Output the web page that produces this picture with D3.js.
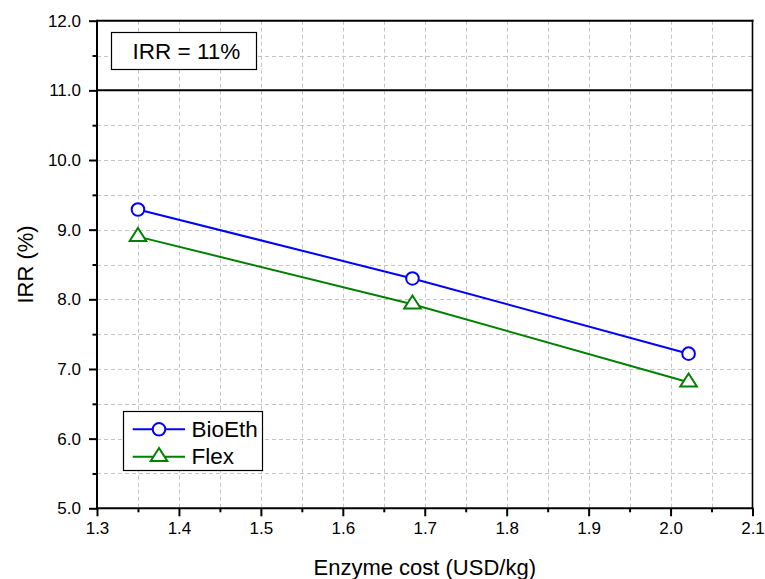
<!DOCTYPE html>
<html><head><meta charset="utf-8">
<script src="https://cdn.jsdelivr.net/npm/d3@7"></script>
<style>body{margin:0;background:#fff}svg{display:block}text{font-family:"Liberation Sans",Arial,sans-serif;fill:#000}</style>
</head><body>
<svg id="c" width="765" height="579"></svg>
<script>
const enzymeCost = [1.35, 1.685, 2.022];
const bioEth = [9.29, 8.30, 7.22];
const flex = [8.90, 7.93, 6.81];
const xTicks = [1.3, 1.4, 1.5, 1.6, 1.7, 1.8, 1.9, 2.0, 2.1];
const yTicks = [5, 6, 7, 8, 9, 10, 11, 12];
const irrTarget = 11;
const seriesNames = ["BioEth", "Flex"];

const svg = d3.select("#c");
const L = 97, R = 752.5, T = 20.7, B = 508.3;
const x = d3.scaleLinear().domain([1.3, 2.1]).range([L, R]);
const y = d3.scaleLinear().domain([5, 12]).range([B, T]);

// grid
const gx = d3.range(1.35, 2.1, 0.05);
const gy = d3.range(5.5, 12, 0.5);
const grid = svg.append("g").attr("stroke", "#c4c4c4").attr("stroke-width", 1).attr("stroke-dasharray", "4,3");
grid.selectAll("line.gx").data(gx).join("line").attr("class","gx")
  .attr("x1", d => Math.round(x(d)) + 0.5).attr("x2", d => Math.round(x(d)) + 0.5).attr("y1", T).attr("y2", B);
grid.selectAll("line.gy").data(gy).join("line").attr("class","gy")
  .attr("y1", d => Math.round(y(d)) + 0.5).attr("y2", d => Math.round(y(d)) + 0.5).attr("x1", L).attr("x2", R);

// axes
const xAxis = d3.axisBottom(x).tickValues(xTicks).tickFormat(d3.format(".1f")).tickSize(8).tickPadding(6);
const xMinor = d3.axisBottom(x).tickValues(d3.range(1.35, 2.1, 0.1)).tickFormat("").tickSize(4);
const yAxis = d3.axisLeft(y).tickValues(yTicks).tickFormat(d3.format(".1f")).tickSize(8).tickPadding(8);
const yMinor = d3.axisLeft(y).tickValues(d3.range(5.5, 12, 1)).tickFormat("").tickSize(4.5);

function styleAxis(g) {
  g.select(".domain").remove();
  g.selectAll(".tick line").attr("stroke", "#000").attr("stroke-width", 2);
  g.selectAll("text").attr("font-size", 17).style("font-family", '"Liberation Sans",Arial,sans-serif');
}
svg.append("g").attr("transform", `translate(0,${B})`).call(xAxis).call(styleAxis);
svg.append("g").attr("transform", `translate(0,${B})`).call(xMinor).call(styleAxis);
svg.append("g").attr("transform", `translate(${L},0)`).call(yAxis).call(styleAxis);
svg.append("g").attr("transform", `translate(${L},0)`).call(yMinor).call(styleAxis);

// frame
svg.append("line").attr("x1", L).attr("x2", R + 1).attr("y1", T).attr("y2", T).attr("stroke", "#000").attr("stroke-width", 2);
svg.append("line").attr("x1", L).attr("x2", R + 1).attr("y1", B).attr("y2", B).attr("stroke", "#000").attr("stroke-width", 2);
svg.append("line").attr("x1", L).attr("x2", L).attr("y1", T - 1).attr("y2", B + 1).attr("stroke", "#000").attr("stroke-width", 2);
svg.append("line").attr("x1", R).attr("x2", R).attr("y1", T - 1).attr("y2", B + 1).attr("stroke", "#000").attr("stroke-width", 1.6);

// reference line
svg.append("line").attr("x1", L).attr("x2", R).attr("y1", y(irrTarget)).attr("y2", y(irrTarget))
  .attr("stroke", "#000").attr("stroke-width", 2);

// series
const tri = "M0,-8.7L8.3,4.35L-8.3,4.35Z";
const series = [
  {name: seriesNames[0], vals: bioEth, color: "#0000ff", shape: "circle"},
  {name: seriesNames[1], vals: flex, color: "#008000", shape: "triangle"}
];
const line = d3.line().x(d => x(d[0])).y(d => y(d[1]));
series.forEach(s => {
  const pts = enzymeCost.map((c, i) => [c, s.vals[i]]);
  svg.append("path").attr("d", line(pts)).attr("fill", "none").attr("stroke", s.color).attr("stroke-width", 2);
  const g = svg.append("g");
  pts.forEach(p => {
    if (s.shape === "circle") {
      g.append("circle").attr("cx", x(p[0])).attr("cy", y(p[1])).attr("r", 6.3)
        .attr("fill", "#fff").attr("stroke", s.color).attr("stroke-width", 2);
    } else {
      g.append("path").attr("d", tri).attr("transform", `translate(${x(p[0])},${y(p[1])})`)
        .attr("fill", "#fff").attr("stroke", s.color).attr("stroke-width", 2);
    }
  });
});

// annotation box
svg.append("rect").attr("x", 111.5).attr("y", 32.5).attr("width", 145).attr("height", 37)
  .attr("fill", "#fff").attr("stroke", "#000").attr("stroke-width", 1.2);
svg.append("text").attr("x", 132.5).attr("y", 59.3).attr("font-size", 22.5).text("IRR = " + irrTarget + "%");

// legend
svg.append("rect").attr("x", 123.5).attr("y", 411.5).attr("width", 139).attr("height", 59)
  .attr("fill", "#fff").attr("stroke", "#000").attr("stroke-width", 1.2);
const legY = [429.3, 456.7];
series.forEach((s, i) => {
  svg.append("line").attr("x1", 132.7).attr("x2", 185).attr("y1", legY[i]).attr("y2", legY[i])
    .attr("stroke", s.color).attr("stroke-width", 2);
  if (s.shape === "circle") {
    svg.append("circle").attr("cx", 159).attr("cy", legY[i]).attr("r", 6.3)
      .attr("fill", "#fff").attr("stroke", s.color).attr("stroke-width", 2);
  } else {
    svg.append("path").attr("d", tri).attr("transform", `translate(159,${legY[i]})`)
      .attr("fill", "#fff").attr("stroke", s.color).attr("stroke-width", 2);
  }
  svg.append("text").attr("x", 191.5).attr("y", legY[i] + 7.6).attr("font-size", 22.5).text(s.name);
});

// axis titles
svg.append("text").attr("x", (L + R) / 2).attr("y", 575).attr("text-anchor", "middle")
  .attr("font-size", 22).text("Enzyme cost (USD/kg)");
svg.append("text").attr("transform", `translate(33,${(T + B) / 2}) rotate(-90)`).attr("text-anchor", "middle")
  .attr("font-size", 22).text("IRR (%)");
</script>
</body></html>
